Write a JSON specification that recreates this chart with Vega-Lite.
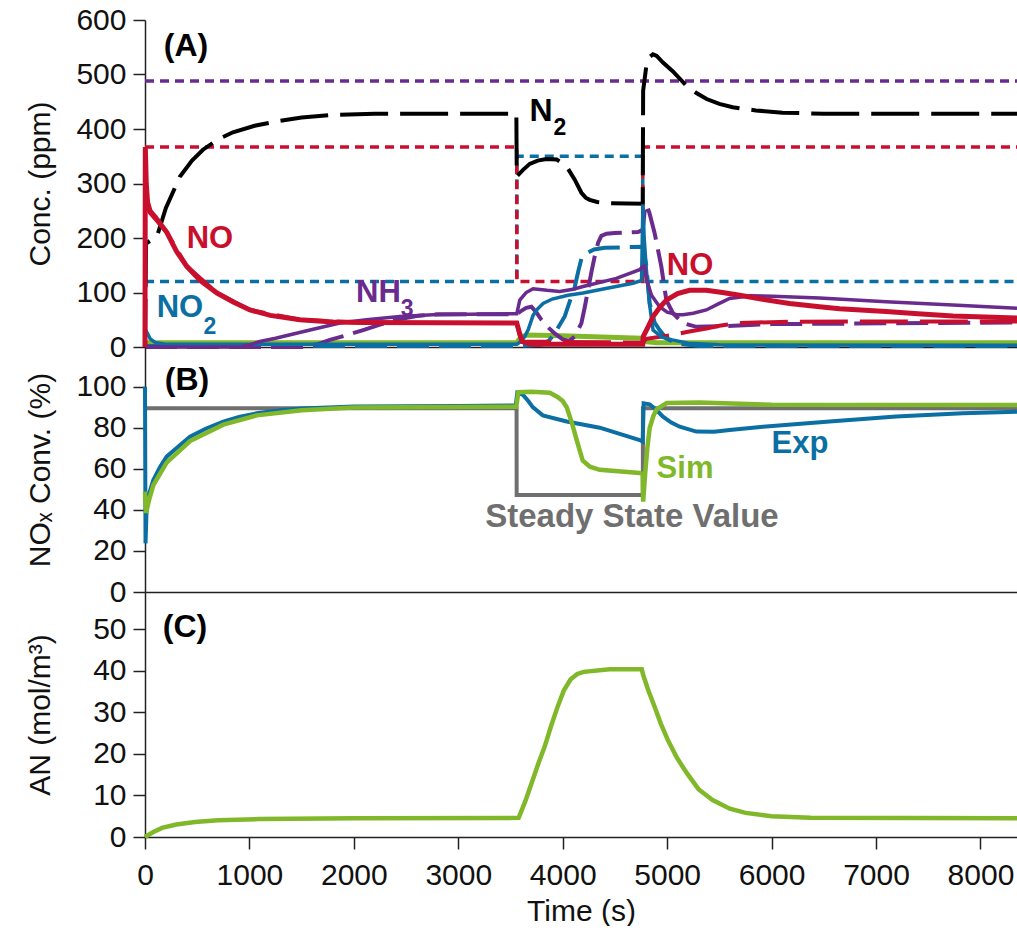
{
"$schema": "https://vega.github.io/schema/vega-lite/v6.json",
"padding": {"left": 25, "top": 5, "right": 0, "bottom": 0},
"background": "white",
"bounds": "flush",
"spacing": 0,
"config": {
  "font": "Liberation Sans",
  "view": {"stroke": null},
  "concat": {"spacing": 0},
  "axis": {"labelFont": "Liberation Sans", "titleFont": "Liberation Sans", "labelFontSize": 30, "titleFontSize": 30, "titleFontWeight": "normal", "labelColor": "#111", "titleColor": "#111", "domainColor": "#222", "tickColor": "#222", "domainWidth": 1.5, "tickWidth": 1.5, "grid": false, "labelFlush": false}
},
"datasets": {
"A": [
{"s":"inNH3","t":0,"c":488},{"s":"inNH3","t":8350,"c":488},
{"s":"inNO","t":0,"c":367},{"s":"inNO","t":3560,"c":367},{"s":"inNO","t":3561,"c":120},{"s":"inNO","t":4766,"c":120},{"s":"inNO","t":4767,"c":367},{"s":"inNO","t":8350,"c":367},
{"s":"inNO2","t":0,"c":120},{"s":"inNO2","t":3560,"c":120},{"s":"inNO2","t":3561,"c":350},{"s":"inNO2","t":4766,"c":350},{"s":"inNO2","t":4767,"c":120},{"s":"inNO2","t":8350,"c":120},
{"s":"N2","t":0,"c":0},{"s":"N2","t":10,"c":190},{"s":"N2","t":115,"c":203},{"s":"N2","t":200,"c":255},{"s":"N2","t":335,"c":313},{"s":"N2","t":450,"c":342},{"s":"N2","t":555,"c":362},{"s":"N2","t":700,"c":381},{"s":"N2","t":842,"c":394},{"s":"N2","t":1050,"c":406},{"s":"N2","t":1263,"c":414},{"s":"N2","t":1500,"c":421},{"s":"N2","t":1800,"c":426},{"s":"N2","t":2200,"c":428},{"s":"N2","t":3556,"c":428},{"s":"N2","t":3560,"c":313},{"s":"N2","t":3620,"c":325},{"s":"N2","t":3684,"c":336},{"s":"N2","t":3760,"c":342},{"s":"N2","t":3844,"c":345},{"s":"N2","t":3943,"c":344},{"s":"N2","t":4035,"c":332},{"s":"N2","t":4115,"c":307},{"s":"N2","t":4179,"c":283},{"s":"N2","t":4220,"c":274},{"s":"N2","t":4258,"c":270},{"s":"N2","t":4330,"c":266},{"s":"N2","t":4418,"c":264},{"s":"N2","t":4766,"c":263},{"s":"N2","t":4770,"c":470},{"s":"N2","t":4800,"c":515},{"s":"N2","t":4830,"c":532},{"s":"N2","t":4864,"c":537},{"s":"N2","t":4900,"c":534},{"s":"N2","t":4960,"c":522},{"s":"N2","t":5053,"c":506},{"s":"N2","t":5187,"c":479},{"s":"N2","t":5280,"c":466},{"s":"N2","t":5378,"c":455},{"s":"N2","t":5500,"c":446},{"s":"N2","t":5627,"c":440},{"s":"N2","t":5850,"c":434},{"s":"N2","t":6105,"c":430},{"s":"N2","t":6500,"c":428},{"s":"N2","t":8350,"c":428},
{"s":"green","t":0,"c":8},{"s":"green","t":3560,"c":8},{"s":"green","t":3600,"c":18},{"s":"green","t":3650,"c":22},{"s":"green","t":3900,"c":21},{"s":"green","t":4300,"c":19},{"s":"green","t":4750,"c":16},{"s":"green","t":4790,"c":10},{"s":"green","t":4900,"c":8},{"s":"green","t":8350,"c":8},
{"s":"NO2sim","t":0,"c":2},{"s":"NO2sim","t":3560,"c":2},{"s":"NO2sim","t":3800,"c":4},{"s":"NO2sim","t":3870,"c":12},{"s":"NO2sim","t":3923,"c":25},{"s":"NO2sim","t":4019,"c":56},{"s":"NO2sim","t":4070,"c":85},{"s":"NO2sim","t":4115,"c":110},{"s":"NO2sim","t":4150,"c":140},{"s":"NO2sim","t":4179,"c":162},{"s":"NO2sim","t":4227,"c":172},{"s":"NO2sim","t":4300,"c":179},{"s":"NO2sim","t":4402,"c":182},{"s":"NO2sim","t":4766,"c":184},{"s":"NO2sim","t":4800,"c":150},{"s":"NO2sim","t":4833,"c":80},{"s":"NO2sim","t":4880,"c":45},{"s":"NO2sim","t":4928,"c":31},{"s":"NO2sim","t":4990,"c":16},{"s":"NO2sim","t":5100,"c":6},{"s":"NO2sim","t":5300,"c":2},{"s":"NO2sim","t":8350,"c":2},
{"s":"NH3sim","t":0,"c":0},{"s":"NH3sim","t":1500,"c":0},{"s":"NH3sim","t":1650,"c":5},{"s":"NH3sim","t":1770,"c":13},{"s":"NH3sim","t":1900,"c":20},{"s":"NH3sim","t":2089,"c":31},{"s":"NH3sim","t":2250,"c":41},{"s":"NH3sim","t":2408,"c":50},{"s":"NH3sim","t":2600,"c":57},{"s":"NH3sim","t":2800,"c":60},{"s":"NH3sim","t":3560,"c":60},{"s":"NH3sim","t":3600,"c":66},{"s":"NH3sim","t":3650,"c":72},{"s":"NH3sim","t":3700,"c":74},{"s":"NH3sim","t":3750,"c":63},{"s":"NH3sim","t":3796,"c":50},{"s":"NH3sim","t":3860,"c":36},{"s":"NH3sim","t":3923,"c":25},{"s":"NH3sim","t":4000,"c":14},{"s":"NH3sim","t":4060,"c":11},{"s":"NH3sim","t":4120,"c":20},{"s":"NH3sim","t":4179,"c":44},{"s":"NH3sim","t":4210,"c":72},{"s":"NH3sim","t":4243,"c":105},{"s":"NH3sim","t":4275,"c":138},{"s":"NH3sim","t":4306,"c":166},{"s":"NH3sim","t":4340,"c":192},{"s":"NH3sim","t":4370,"c":204},{"s":"NH3sim","t":4420,"c":208},{"s":"NH3sim","t":4498,"c":209},{"s":"NH3sim","t":4721,"c":211},{"s":"NH3sim","t":4766,"c":215},{"s":"NH3sim","t":4785,"c":250},{"s":"NH3sim","t":4801,"c":262},{"s":"NH3sim","t":4830,"c":246},{"s":"NH3sim","t":4880,"c":209},{"s":"NH3sim","t":4944,"c":148},{"s":"NH3sim","t":4992,"c":86},{"s":"NH3sim","t":5056,"c":62},{"s":"NH3sim","t":5151,"c":44},{"s":"NH3sim","t":5280,"c":37},{"s":"NH3sim","t":5500,"c":38},{"s":"NH3sim","t":6000,"c":42},{"s":"NH3sim","t":8350,"c":45},
{"s":"NOsim","t":0,"c":262},{"s":"NOsim","t":48,"c":246},{"s":"NOsim","t":210,"c":210},{"s":"NOsim","t":400,"c":148},{"s":"NOsim","t":690,"c":99},{"s":"NOsim","t":1005,"c":68},{"s":"NOsim","t":1483,"c":50},{"s":"NOsim","t":2120,"c":44},{"s":"NOsim","t":3560,"c":44},{"s":"NOsim","t":3590,"c":20},{"s":"NOsim","t":3620,"c":10},{"s":"NOsim","t":4766,"c":8},{"s":"NOsim","t":4800,"c":15},{"s":"NOsim","t":5056,"c":22},{"s":"NOsim","t":5200,"c":28},{"s":"NOsim","t":5375,"c":34},{"s":"NOsim","t":5500,"c":39},{"s":"NOsim","t":5694,"c":44},{"s":"NOsim","t":6172,"c":46.5},{"s":"NOsim","t":8350,"c":47},
{"s":"NO2exp","t":0,"c":0},{"s":"NO2exp","t":3,"c":25},{"s":"NO2exp","t":15,"c":28},{"s":"NO2exp","t":50,"c":15},{"s":"NO2exp","t":100,"c":8},{"s":"NO2exp","t":200,"c":5},{"s":"NO2exp","t":3560,"c":5},{"s":"NO2exp","t":3600,"c":10},{"s":"NO2exp","t":3636,"c":19},{"s":"NO2exp","t":3670,"c":32},{"s":"NO2exp","t":3716,"c":58},{"s":"NO2exp","t":3760,"c":70},{"s":"NO2exp","t":3812,"c":80},{"s":"NO2exp","t":3900,"c":88},{"s":"NO2exp","t":4050,"c":95},{"s":"NO2exp","t":4195,"c":99},{"s":"NO2exp","t":4400,"c":107},{"s":"NO2exp","t":4673,"c":117},{"s":"NO2exp","t":4755,"c":122},{"s":"NO2exp","t":4762,"c":200},{"s":"NO2exp","t":4768,"c":262},{"s":"NO2exp","t":4780,"c":200},{"s":"NO2exp","t":4801,"c":142},{"s":"NO2exp","t":4830,"c":80},{"s":"NO2exp","t":4865,"c":31},{"s":"NO2exp","t":4950,"c":18},{"s":"NO2exp","t":5050,"c":13},{"s":"NO2exp","t":5200,"c":7},{"s":"NO2exp","t":5500,"c":4},{"s":"NO2exp","t":8350,"c":3},
{"s":"NH3exp","t":0,"c":0},{"s":"NH3exp","t":900,"c":0},{"s":"NH3exp","t":1000,"c":4},{"s":"NH3exp","t":1100,"c":10},{"s":"NH3exp","t":1250,"c":16},{"s":"NH3exp","t":1400,"c":23},{"s":"NH3exp","t":1600,"c":32},{"s":"NH3exp","t":1866,"c":44},{"s":"NH3exp","t":2120,"c":50},{"s":"NH3exp","t":2440,"c":56},{"s":"NH3exp","t":2756,"c":59},{"s":"NH3exp","t":3100,"c":60},{"s":"NH3exp","t":3560,"c":61},{"s":"NH3exp","t":3589,"c":86},{"s":"NH3exp","t":3650,"c":100},{"s":"NH3exp","t":3716,"c":107},{"s":"NH3exp","t":3850,"c":104},{"s":"NH3exp","t":3971,"c":102},{"s":"NH3exp","t":4100,"c":106},{"s":"NH3exp","t":4195,"c":111},{"s":"NH3exp","t":4514,"c":126},{"s":"NH3exp","t":4737,"c":142},{"s":"NH3exp","t":4766,"c":147},{"s":"NH3exp","t":4785,"c":148},{"s":"NH3exp","t":4801,"c":125},{"s":"NH3exp","t":4850,"c":95},{"s":"NH3exp","t":4928,"c":74},{"s":"NH3exp","t":5000,"c":64},{"s":"NH3exp","t":5100,"c":59},{"s":"NH3exp","t":5151,"c":59},{"s":"NH3exp","t":5250,"c":62},{"s":"NH3exp","t":5375,"c":68},{"s":"NH3exp","t":5500,"c":80},{"s":"NH3exp","t":5598,"c":89},{"s":"NH3exp","t":5800,"c":94},{"s":"NH3exp","t":6013,"c":93},{"s":"NH3exp","t":6459,"c":90},{"s":"NH3exp","t":7097,"c":83},{"s":"NH3exp","t":7735,"c":77},{"s":"NH3exp","t":8350,"c":71},
{"s":"NOexp","t":0,"c":0},{"s":"NOexp","t":3,"c":367},{"s":"NOexp","t":12,"c":300},{"s":"NOexp","t":25,"c":265},{"s":"NOexp","t":48,"c":250},{"s":"NOexp","t":100,"c":238},{"s":"NOexp","t":210,"c":210},{"s":"NOexp","t":300,"c":176},{"s":"NOexp","t":400,"c":148},{"s":"NOexp","t":530,"c":122},{"s":"NOexp","t":690,"c":99},{"s":"NOexp","t":850,"c":82},{"s":"NOexp","t":1005,"c":68},{"s":"NOexp","t":1200,"c":58},{"s":"NOexp","t":1483,"c":50},{"s":"NOexp","t":1800,"c":46},{"s":"NOexp","t":2120,"c":45},{"s":"NOexp","t":3560,"c":44},{"s":"NOexp","t":3580,"c":30},{"s":"NOexp","t":3610,"c":10},{"s":"NOexp","t":3700,"c":5},{"s":"NOexp","t":4766,"c":5},{"s":"NOexp","t":4770,"c":19},{"s":"NOexp","t":4820,"c":38},{"s":"NOexp","t":4865,"c":56},{"s":"NOexp","t":4930,"c":73},{"s":"NOexp","t":4992,"c":86},{"s":"NOexp","t":5100,"c":98},{"s":"NOexp","t":5215,"c":104},{"s":"NOexp","t":5375,"c":104},{"s":"NOexp","t":5530,"c":100},{"s":"NOexp","t":5694,"c":95},{"s":"NOexp","t":5900,"c":88},{"s":"NOexp","t":6172,"c":80},{"s":"NOexp","t":6459,"c":74},{"s":"NOexp","t":6651,"c":70},{"s":"NOexp","t":7097,"c":65},{"s":"NOexp","t":7400,"c":61},{"s":"NOexp","t":7735,"c":57},{"s":"NOexp","t":8350,"c":53}
],
"B": [
{"s":"SS","t":0,"c":89.5},{"s":"SS","t":3558,"c":89.5},{"s":"SS","t":3559,"c":47.2},{"s":"SS","t":4767,"c":47.2},{"s":"SS","t":4768,"c":89.5},{"s":"SS","t":8350,"c":89.5},
{"s":"Sim","t":0,"c":48.9},{"s":"Sim","t":10,"c":38.5},{"s":"Sim","t":40,"c":45},{"s":"Sim","t":80,"c":52},{"s":"Sim","t":207,"c":63},{"s":"Sim","t":431,"c":73.5},{"s":"Sim","t":750,"c":81.5},{"s":"Sim","t":1069,"c":86},{"s":"Sim","t":1500,"c":88.5},{"s":"Sim","t":2000,"c":89.8},{"s":"Sim","t":3555,"c":90.2},{"s":"Sim","t":3575,"c":97.3},{"s":"Sim","t":3700,"c":97.5},{"s":"Sim","t":3876,"c":97},{"s":"Sim","t":3950,"c":95},{"s":"Sim","t":4000,"c":93},{"s":"Sim","t":4038,"c":90},{"s":"Sim","t":4090,"c":82},{"s":"Sim","t":4134,"c":74},{"s":"Sim","t":4191,"c":64},{"s":"Sim","t":4260,"c":61},{"s":"Sim","t":4354,"c":59.5},{"s":"Sim","t":4737,"c":58},{"s":"Sim","t":4766,"c":57.5},{"s":"Sim","t":4770,"c":44},{"s":"Sim","t":4790,"c":58},{"s":"Sim","t":4810,"c":70},{"s":"Sim","t":4833,"c":80},{"s":"Sim","t":4870,"c":86},{"s":"Sim","t":4900,"c":89},{"s":"Sim","t":4995,"c":92},{"s":"Sim","t":5311,"c":92.3},{"s":"Sim","t":6000,"c":91.2},{"s":"Sim","t":8350,"c":91},
{"s":"Exp","t":0,"c":100},{"s":"Exp","t":5,"c":23.7},{"s":"Exp","t":16,"c":41.5},{"s":"Exp","t":40,"c":48},{"s":"Exp","t":80,"c":54.5},{"s":"Exp","t":140,"c":60.5},{"s":"Exp","t":207,"c":65.9},{"s":"Exp","t":300,"c":70},{"s":"Exp","t":431,"c":75.6},{"s":"Exp","t":580,"c":79.5},{"s":"Exp","t":750,"c":83},{"s":"Exp","t":900,"c":85.2},{"s":"Exp","t":1069,"c":87},{"s":"Exp","t":1300,"c":88.5},{"s":"Exp","t":1500,"c":89.3},{"s":"Exp","t":2000,"c":90.3},{"s":"Exp","t":3000,"c":90.6},{"s":"Exp","t":3550,"c":90.8},{"s":"Exp","t":3565,"c":97},{"s":"Exp","t":3620,"c":96},{"s":"Exp","t":3670,"c":93},{"s":"Exp","t":3713,"c":90},{"s":"Exp","t":3809,"c":86},{"s":"Exp","t":4038,"c":83},{"s":"Exp","t":4354,"c":80},{"s":"Exp","t":4737,"c":74},{"s":"Exp","t":4766,"c":73.2},{"s":"Exp","t":4775,"c":91.9},{"s":"Exp","t":4833,"c":91.4},{"s":"Exp","t":4900,"c":88.5},{"s":"Exp","t":4960,"c":85.4},{"s":"Exp","t":5040,"c":82.5},{"s":"Exp","t":5120,"c":80.5},{"s":"Exp","t":5280,"c":78.1},{"s":"Exp","t":5450,"c":78},{"s":"Exp","t":5598,"c":78.9},{"s":"Exp","t":5917,"c":80.5},{"s":"Exp","t":6555,"c":83},{"s":"Exp","t":7193,"c":85.4},{"s":"Exp","t":7831,"c":87},{"s":"Exp","t":8350,"c":87.8}
],
"C": [
{"t":0,"c":0},{"t":80,"c":1.2},{"t":163,"c":2.2},{"t":300,"c":3.0},{"t":478,"c":3.6},{"t":700,"c":4.0},{"t":1091,"c":4.3},{"t":2000,"c":4.5},{"t":3578,"c":4.6},{"t":3640,"c":8.5},{"t":3700,"c":12.8},{"t":3760,"c":17.2},{"t":3828,"c":21.8},{"t":3890,"c":26.8},{"t":3952,"c":31.4},{"t":4010,"c":35.2},{"t":4076,"c":37.9},{"t":4140,"c":39.2},{"t":4201,"c":39.7},{"t":4450,"c":40.3},{"t":4757,"c":40.3},{"t":4770,"c":39},{"t":4820,"c":35.2},{"t":4880,"c":31.3},{"t":4940,"c":27.2},{"t":5005,"c":23.4},{"t":5090,"c":19.2},{"t":5187,"c":15.4},{"t":5300,"c":11.5},{"t":5435,"c":8.9},{"t":5600,"c":6.8},{"t":5751,"c":5.8},{"t":6000,"c":5.0},{"t":6373,"c":4.6},{"t":8350,"c":4.5}
],
"LA": [
{"t":393,"c":552,"txt":"(A)","g":"k"},
{"t":3792,"c":433,"txt":"N","g":"k"},
{"t":3974,"c":401,"txt":"2","g":"ks"},
{"t":622,"c":199,"txt":"NO","g":"r"},
{"t":5219,"c":149,"txt":"NO","g":"r"},
{"t":335,"c":71,"txt":"NO","g":"b"},
{"t":622,"c":36,"txt":"2","g":"bs"},
{"t":2236,"c":100,"txt":"NH","g":"p"},
{"t":2509,"c":70,"txt":"3","g":"ps"}
],
"LB": [
{"t":402,"c":103.3,"txt":"(B)","g":"k"},
{"t":5171,"c":59.7,"txt":"Sim","g":"gr"},
{"t":6272,"c":72.1,"txt":"Exp","g":"b"},
{"t":4663,"c":36.5,"txt":"Steady State Value","g":"gy"}
],
"LC": [
{"t":383,"c":50.5,"txt":"(C)","g":"k"}
]
},
"vconcat": [
{
  "width": 872, "height": 327,
  "encoding": {
    "x": {"field": "t", "type": "quantitative", "scale": {"domain": [0, 8350], "nice": false, "zero": false}, "axis": {"labels": false, "ticks": false, "title": null, "domain": true}},
    "y": {"field": "c", "type": "quantitative", "scale": {"domain": [0, 600], "nice": false}, "axis": {"title": "Conc. (ppm)", "values": [0,100,200,300,400,500,600], "tickSize": 12, "labelPadding": 7, "titlePadding": 20, "minExtent": 70, "maxExtent": 70}}
  },
  "layer": [
    {"data": {"values": [{}]}, "mark": {"type": "rule", "color": "#222", "strokeWidth": 1.5}, "encoding": {"x": {"datum": 0}, "x2": {"datum": 8350}, "y": {"datum": 600}}},
    {"data": {"name": "A"}, "transform": [{"filter": "datum.s==='inNH3'"}], "mark": {"type": "line", "color": "#6a2b8f", "strokeWidth": 3.5, "strokeDash": [9, 6]}},
    {"data": {"name": "A"}, "transform": [{"filter": "datum.s==='inNO2'"}], "mark": {"type": "line", "color": "#0b6fa4", "strokeWidth": 3.5, "strokeDash": [9, 6]}},
    {"data": {"name": "A"}, "transform": [{"filter": "datum.s==='inNO'"}], "mark": {"type": "line", "color": "#c8102e", "strokeWidth": 3.5, "strokeDash": [9, 6]}},
    {"data": {"name": "A"}, "transform": [{"filter": "datum.s==='N2'"}], "mark": {"type": "line", "color": "#000", "strokeWidth": 4, "strokeDash": [48, 12]}},
    {"data": {"name": "A"}, "transform": [{"filter": "datum.s==='green'"}], "mark": {"type": "line", "color": "#80b82a", "strokeWidth": 5}},
    {"data": {"name": "A"}, "transform": [{"filter": "datum.s==='NO2sim'"}], "mark": {"type": "line", "color": "#0b6fa4", "strokeWidth": 4, "strokeDash": [32, 10]}},
    {"data": {"name": "A"}, "transform": [{"filter": "datum.s==='NH3sim'"}], "mark": {"type": "line", "color": "#6a2b8f", "strokeWidth": 4, "strokeDash": [32, 10]}},
    {"data": {"name": "A"}, "transform": [{"filter": "datum.s==='NOsim'"}], "mark": {"type": "line", "color": "#c8102e", "strokeWidth": 4, "strokeDash": [48, 12]}},
    {"data": {"name": "A"}, "transform": [{"filter": "datum.s==='NO2exp'"}], "mark": {"type": "line", "color": "#0b6fa4", "strokeWidth": 3.5}},
    {"data": {"name": "A"}, "transform": [{"filter": "datum.s==='NH3exp'"}], "mark": {"type": "line", "color": "#6a2b8f", "strokeWidth": 3.5}},
    {"data": {"name": "A"}, "transform": [{"filter": "datum.s==='NOexp'"}], "mark": {"type": "line", "color": "#c8102e", "strokeWidth": 5}},
    {"data": {"name": "LA"}, "transform": [{"filter": "datum.g==='k'"}], "mark": {"type": "text", "font": "Liberation Sans", "fontWeight": "bold", "fontSize": 32, "color": "#000", "align": "center", "baseline": "middle"}, "encoding": {"text": {"field": "txt"}}},
    {"data": {"name": "LA"}, "transform": [{"filter": "datum.g==='ks'"}], "mark": {"type": "text", "font": "Liberation Sans", "fontWeight": "bold", "fontSize": 23, "color": "#000", "align": "center", "baseline": "middle"}, "encoding": {"text": {"field": "txt"}}},
    {"data": {"name": "LA"}, "transform": [{"filter": "datum.g==='r'"}], "mark": {"type": "text", "font": "Liberation Sans", "fontWeight": "bold", "fontSize": 31, "color": "#c8102e", "align": "center", "baseline": "middle"}, "encoding": {"text": {"field": "txt"}}},
    {"data": {"name": "LA"}, "transform": [{"filter": "datum.g==='b'"}], "mark": {"type": "text", "font": "Liberation Sans", "fontWeight": "bold", "fontSize": 31, "color": "#0b6fa4", "align": "center", "baseline": "middle"}, "encoding": {"text": {"field": "txt"}}},
    {"data": {"name": "LA"}, "transform": [{"filter": "datum.g==='bs'"}], "mark": {"type": "text", "font": "Liberation Sans", "fontWeight": "bold", "fontSize": 23, "color": "#0b6fa4", "align": "center", "baseline": "middle"}, "encoding": {"text": {"field": "txt"}}},
    {"data": {"name": "LA"}, "transform": [{"filter": "datum.g==='p'"}], "mark": {"type": "text", "font": "Liberation Sans", "fontWeight": "bold", "fontSize": 31, "color": "#6a2b8f", "align": "center", "baseline": "middle"}, "encoding": {"text": {"field": "txt"}}},
    {"data": {"name": "LA"}, "transform": [{"filter": "datum.g==='ps'"}], "mark": {"type": "text", "font": "Liberation Sans", "fontWeight": "bold", "fontSize": 23, "color": "#6a2b8f", "align": "center", "baseline": "middle"}, "encoding": {"text": {"field": "txt"}}}
  ]
},
{
  "width": 872, "height": 245,
  "encoding": {
    "x": {"field": "t", "type": "quantitative", "scale": {"domain": [0, 8350], "nice": false, "zero": false}, "axis": {"labels": false, "ticks": false, "title": null, "domain": true}},
    "y": {"field": "c", "type": "quantitative", "scale": {"domain": [0, 119.3], "nice": false}, "axis": {"title": "NOₓ Conv. (%)", "values": [0,20,40,60,80,100], "tickSize": 12, "labelPadding": 7, "titlePadding": 20, "minExtent": 70, "maxExtent": 70}}
  },
  "layer": [
    {"data": {"name": "B"}, "transform": [{"filter": "datum.s==='SS'"}], "mark": {"type": "line", "color": "#6f6f6f", "strokeWidth": 4}},
    {"data": {"name": "B"}, "transform": [{"filter": "datum.s==='Exp'"}], "mark": {"type": "line", "color": "#0b6fa4", "strokeWidth": 4}},
    {"data": {"name": "B"}, "transform": [{"filter": "datum.s==='Sim'"}], "mark": {"type": "line", "color": "#80b82a", "strokeWidth": 4.5}},
    {"data": {"name": "LB"}, "transform": [{"filter": "datum.g==='k'"}], "mark": {"type": "text", "font": "Liberation Sans", "fontWeight": "bold", "fontSize": 32, "color": "#000", "align": "center", "baseline": "middle"}, "encoding": {"text": {"field": "txt"}}},
    {"data": {"name": "LB"}, "transform": [{"filter": "datum.g==='gr'"}], "mark": {"type": "text", "font": "Liberation Sans", "fontWeight": "bold", "fontSize": 31, "color": "#80b82a", "align": "center", "baseline": "middle"}, "encoding": {"text": {"field": "txt"}}},
    {"data": {"name": "LB"}, "transform": [{"filter": "datum.g==='b'"}], "mark": {"type": "text", "font": "Liberation Sans", "fontWeight": "bold", "fontSize": 31, "color": "#0b6fa4", "align": "center", "baseline": "middle"}, "encoding": {"text": {"field": "txt"}}},
    {"data": {"name": "LB"}, "transform": [{"filter": "datum.g==='gy'"}], "mark": {"type": "text", "font": "Liberation Sans", "fontWeight": "bold", "fontSize": 33, "color": "#6f6f6f", "align": "center", "baseline": "middle"}, "encoding": {"text": {"field": "txt"}}}
  ]
},
{
  "width": 872, "height": 245,
  "encoding": {
    "x": {"field": "t", "type": "quantitative", "scale": {"domain": [0, 8350], "nice": false, "zero": false}, "axis": {"title": "Time (s)", "values": [0,1000,2000,3000,4000,5000,6000,7000,8000], "tickSize": 12, "labelPadding": 11, "titlePadding": 6, "format": "d"}},
    "y": {"field": "c", "type": "quantitative", "scale": {"domain": [0, 58.9], "nice": false}, "axis": {"title": "AN (mol/m³)", "values": [0,10,20,30,40,50], "tickSize": 12, "labelPadding": 7, "titlePadding": 20, "minExtent": 70, "maxExtent": 70}}
  },
  "layer": [
    {"data": {"name": "C"}, "mark": {"type": "line", "color": "#80b82a", "strokeWidth": 4.5}},
    {"data": {"name": "LC"}, "mark": {"type": "text", "font": "Liberation Sans", "fontWeight": "bold", "align": "center", "baseline": "middle", "color": "#000", "fontSize": 32}, "encoding": {"text": {"field": "txt"}}}
  ]
}
]
}
